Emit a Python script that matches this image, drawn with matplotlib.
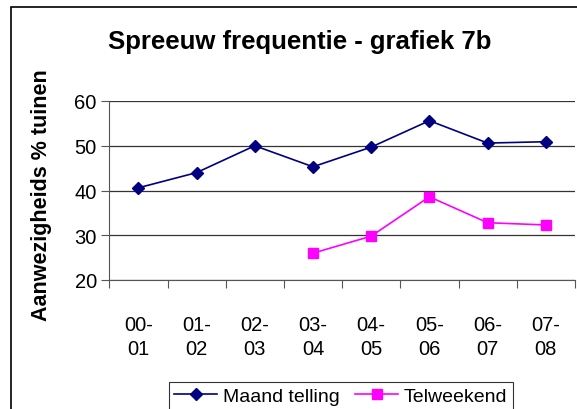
import numpy as np
import matplotlib.pyplot as plt
from matplotlib.patches import Rectangle

plt.rcParams['font.family'] = ['Liberation Sans', 'DejaVu Sans']

seasons = ["00-\n01", "01-\n02", "02-\n03", "03-\n04", "04-\n05", "05-\n06", "06-\n07", "07-\n08"]
maand = [40.6, 44.0, 50.0, 45.3, 49.7, 55.6, 50.6, 50.9]
telweekend = [np.nan, np.nan, np.nan, 26.0, 29.8, 38.6, 32.8, 32.3]

fig = plt.figure(figsize=(5.77, 4.10), dpi=100)
ax = fig.add_axes([109.3 / 577, 1 - 281 / 410, (574.9 - 109.3) / 577, (281 - 102) / 410])

xs = np.arange(len(seasons)) + 0.5
ax.plot(xs, maand, color='#000080', marker='D', markersize=6, linewidth=1.2, label='Maand telling')
ax.plot(xs, telweekend, color='#FF00FF', marker='s', markersize=7, linewidth=1.2, label='Telweekend')

ax.set_xlim(0, len(seasons))
ax.set_ylim(20, 60)
ax.set_yticks([20, 30, 40, 50, 60])
ax.set_xticks(np.arange(len(seasons) + 1))
ax.set_xticklabels([])
ax.set_xticks(xs, minor=True)
ax.set_xticklabels(seasons, minor=True, fontsize=14.5, linespacing=1.35)
ax.tick_params(axis='x', which='major', length=6, direction='out', color='#555555')
ax.tick_params(axis='x', which='minor', length=0, pad=25)
ax.tick_params(axis='y', length=6, direction='out', labelsize=14.5, color='#555555', pad=3)

ax.grid(axis='y', color='#333333', linewidth=0.9)
ax.set_axisbelow(True)
for s in ['top', 'right']:
    ax.spines[s].set_visible(False)
for s in ['left', 'bottom']:
    ax.spines[s].set_color('#555555')

ax.set_ylabel('Aanwezigheids % tuinen', fontsize=15.5, fontweight='bold')
ax.yaxis.set_label_coords(-0.122, 0.48)
fig.text(300 / 577, 1 - 42 / 410, 'Spreeuw frequentie - grafiek 7b', fontsize=18.5,
         fontweight='bold', ha='center', va='center')

leg = fig.legend(loc='upper center', bbox_to_anchor=(341 / 577, 1 - 373 / 410), ncol=2,
                 fontsize=14, frameon=True, fancybox=False, handlelength=2.2,
                 columnspacing=0.8, handletextpad=0.3, borderpad=0.3)
leg.get_frame().set_edgecolor('black')
leg.get_frame().set_linewidth(0.8)

# chart outer border
fig.patches.append(Rectangle((11 / 577, -0.1), 1.2, 1.1 - 8 / 410, transform=fig.transFigure,
                             fill=False, edgecolor='black', linewidth=1.2))

fig.savefig('out.png', dpi=100)
